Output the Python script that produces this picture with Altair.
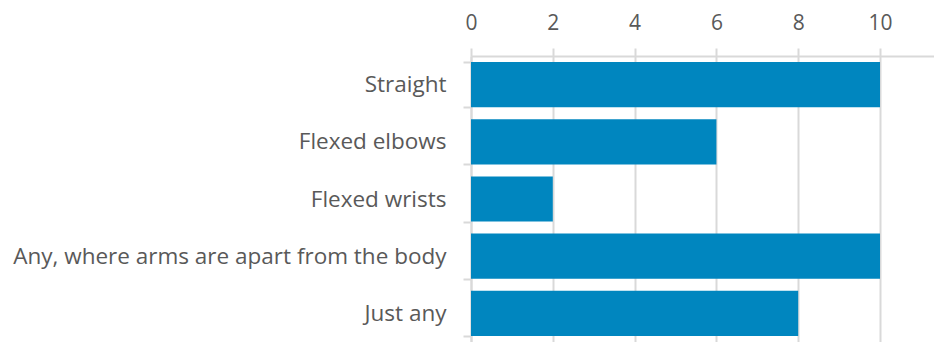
import altair as alt
import pandas as pd

categories = ["Straight", "Flexed elbows", "Flexed wrists",
              "Any, where arms are apart from the body", "Just any"]
values = [10, 6, 2, 10, 8]
tick_values = [0, 2, 4, 6, 8, 10]

df = pd.DataFrame({"category": categories, "value": values})

FONT = "Open Sans"
GRID = "#D9D9D9"
TEXT = "#595959"

chart = alt.Chart(df).mark_bar(color="#0086BF").encode(
    x=alt.X("value:Q",
            scale=alt.Scale(domain=[0, 11.32], nice=False, zero=True),
            axis=alt.Axis(orient="top", values=tick_values, title=None,
                          grid=True, gridColor=GRID, gridWidth=2,
                          domainColor=GRID, domainWidth=2,
                          tickColor=GRID, tickWidth=2, tickSize=8,
                          labelFont=FONT, labelFontSize=21, labelColor=TEXT,
                          labelPadding=15, labelFlush=False)),
    y=alt.Y("category:N", sort=categories,
            scale=alt.Scale(paddingInner=0.21, paddingOuter=0.105),
            axis=alt.Axis(title=None, tickBand="extent",
                          domainColor=GRID, domainWidth=2,
                          tickColor=GRID, tickWidth=2, tickSize=8,
                          labelFont=FONT, labelFontSize=22.5, labelColor=TEXT,
                          labelPadding=17, labelLimit=0)),
).properties(
    width=463, height=286,
    autosize=alt.AutoSizeParams(type="none"),
    padding={"left": 463, "top": 48, "right": 0, "bottom": 0},
).configure_view(stroke=None)

chart.save("out.html", embed_options={"renderer": "svg", "actions": False})
